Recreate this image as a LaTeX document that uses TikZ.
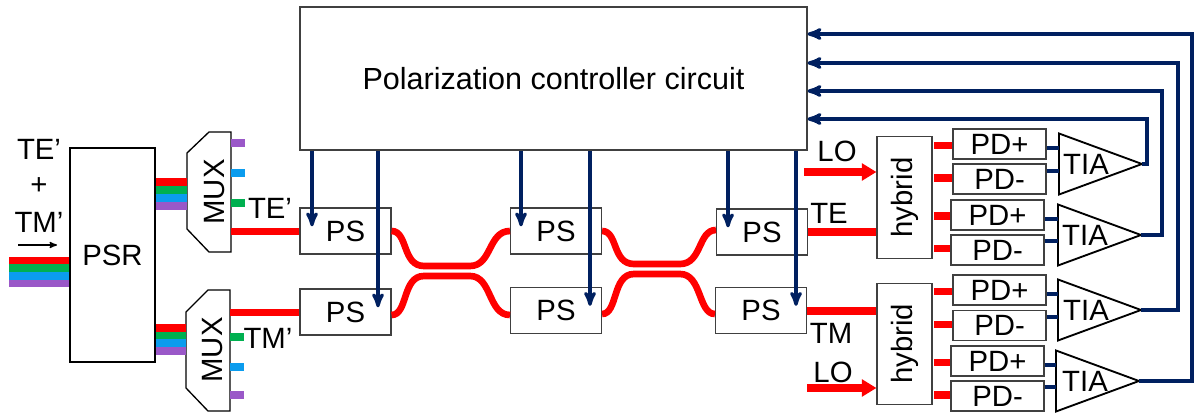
\documentclass[tikz,border=0pt]{standalone}
\usepackage{fontspec}
\setmainfont{Liberation Sans}
\usetikzlibrary{arrows}
\usetikzlibrary{arrows.meta}
\usetikzlibrary{shapes.geometric}

\definecolor{navyline}{HTML}{002060}
\definecolor{bandred}{HTML}{FF0000}
\definecolor{bandgreen}{HTML}{00B050}
\definecolor{bandblue}{HTML}{0B9CEE}
\definecolor{bandpurple}{HTML}{9A58C8}
\definecolor{boxline}{HTML}{404040}

\tikzset{
  blockbox/.style={draw=boxline,line width=0.8pt,fill=white,inner sep=0pt},
  psbox/.style={blockbox,minimum width=68.25pt,minimum height=34.5pt},
  pdbox/.style={blockbox,minimum width=69.75pt,minimum height=22.5pt},
  hybox/.style={blockbox,minimum width=41.25pt,minimum height=91pt},
  tiabox/.style={draw=black,line width=1.4pt,fill=white,isosceles triangle,
    isosceles triangle stretches,minimum width=45.75pt,minimum height=62.25pt,
    inner sep=0pt,outer sep=0pt,anchor=apex},
  muxbox/.style={minimum width=33pt,minimum height=90pt,inner sep=0pt},
  txt/.style={inner sep=0pt},
  band/.style={line width=5.8pt},
  guide/.style={line width=5pt,bandred},
  ctlline/.style={draw=navyline,line width=2.4pt,->,>=stealth',shorten >=3.5pt},
  fbline/.style={draw=navyline,line width=2.4pt,->,>=stealth'},
  stubline/.style={draw=navyline,line width=2.4pt},
  loarrow/.style={line width=5.4pt,bandred,-{Triangle[length=11pt,width=12.5pt]}}
}

\begin{document}
\begin{tikzpicture}[x=0.75pt,y=-0.75pt,every node/.append style={font=\fontsize{22}{26}\selectfont}]
  \useasboundingbox (0,0) rectangle (1194,413);

  \node [blockbox,font=\fontsize{22.9}{26}\selectfont,minimum width=380.25pt,minimum height=107.25pt] (ctrl) at (553.5,78.5) {Polarization controller circuit};
  \node [blockbox,draw=black,minimum width=63.75pt,minimum height=160.5pt] (psr) at (112.5,255) {PSR};

  \node [psbox] (a1) at (345.5,231) {PS};
  \node [psbox] (a2) at (345.5,312) {PS};
  \node [psbox] (b1) at (556,231) {PS};
  \node [psbox] (b2) at (556,310.5) {PS};
  \node [psbox] (c1) at (762,232) {PS};
  \node [psbox] (c2) at (761,310.5) {PS};

  \node [hybox] (hyb1) at (904.5,197.5) {\rotatebox{90}{hybrid}};
  \node [hybox] (hyb2) at (904.5,344) {\rotatebox{90}{hybrid}};

  \node [pdbox] (pd1) at (999.5,144) {PD+};
  \node [pdbox] (pd2) at (999.5,179) {PD-};
  \node [pdbox] (pd3) at (997.5,215) {PD+};
  \node [pdbox] (pd4) at (997.5,250) {PD-};
  \node [pdbox] (pd5) at (999.5,290) {PD+};
  \node [pdbox] (pd6) at (999.5,325.5) {PD-};
  \node [pdbox] (pd7) at (997.5,361) {PD+};
  \node [pdbox] (pd8) at (997.5,396) {PD-};

  \node [tiabox] (tia1) at (1142,164) {};
  \node [tiabox] (tia2) at (1141,235) {};
  \node [tiabox] (tia3) at (1141,310) {};
  \node [tiabox] (tia4) at (1139,381) {};
  \node [txt] (tiatext1) at (1086,164) {TIA};
  \node [txt] (tiatext2) at (1085,235) {TIA};
  \node [txt] (tiatext3) at (1086,310) {TIA};
  \node [txt] (tiatext4) at (1085,381) {TIA};

  % the two multiplexers
  \node [muxbox] (mux1) at (209,192) {};
  \node [muxbox] (mux2) at (208,350.5) {};
  \draw [line width=1pt] (187,153) -- (209,132) -- (231,132) -- (231,252) -- (209,252) -- (187,229) -- cycle;
  \draw [line width=1pt] (186,312) -- (208,290) -- (230,290) -- (230,411) -- (208,411) -- (186,388) -- cycle;
  \node [txt,rotate=90] (muxtext1) at (215,192) {MUX};
  \node [txt,rotate=90] (muxtext2) at (213,350) {MUX};

  \node [txt] (te_in) at (39,149) {TE’};
  \node [txt] (plus) at (39,186) {+};
  \node [txt] (tm_in) at (39,222) {TM’};
  \node [txt] (te_mux) at (270,208) {TE’};
  \node [txt] (tm_mux) at (268,338) {TM’};
  \node [txt] (lo1) at (837,151) {LO};
  \node [txt] (te_out) at (829,213) {TE};
  \node [txt] (tm_out) at (831,333) {TM};
  \node [txt] (lo2) at (833,372) {LO};

  \coordinate (input) at (9,272);
  \coordinate (dir_a) at (18,245);
  \coordinate (dir_b) at (57,245);
  \coordinate (lo1_in) at (804,172);
  \coordinate (lo2_in) at (807,388);
  \draw [line width=1pt,->,>=stealth'] (dir_a) -- (dir_b);

  % colour bands
  \foreach \col/\yy in {bandred/260.5,bandgreen/268,bandblue/276,bandpurple/283.5}
    \draw [band,\col] (input |- 0,\yy) -- (psr.west |- 0,\yy);
  \foreach \col/\yy in {bandred/182,bandgreen/190,bandblue/198,bandpurple/206}
    \draw [band,\col] (psr.east |- 0,\yy) -- (mux1.west |- 0,\yy);
  \foreach \col/\yy in {bandred/328,bandgreen/335.5,bandblue/343,bandpurple/351}
    \draw [band,\col] (psr.east |- 0,\yy) -- (mux2.west |- 0,\yy);
  \foreach \col/\yy in {bandpurple/143,bandblue/173,bandgreen/203}
    \draw [band,\col] (mux1.east |- 0,\yy) -- ++(14,0);
  \foreach \col/\yy in {bandgreen/337,bandblue/367,bandpurple/395}
    \draw [band,\col] (mux2.east |- 0,\yy) -- ++(14,0);

  \draw [band,bandred] (mux1.east |- 0,231.5) -- (a1.west |- 0,231.5);
  \draw [band,bandred] (mux2.east |- 0,312.5) -- (a2.west |- 0,312.5);
  \draw [band,bandred] (c1.east |- 0,232) -- (hyb1.west |- 0,232);
  \draw [band,bandred] (c2.east |- 0,311) -- (hyb2.west |- 0,311);
  \draw [loarrow] (lo1_in) -- (hyb1.west |- lo1_in);
  \draw [loarrow] (lo2_in) -- (hyb2.west |- lo2_in);

  % couplers
  \draw [guide] (a1.east) .. controls (408,231) and (402,266) .. (424,266) -- (470,266)
    .. controls (492,266) and (488,231) .. (b1.west);
  \draw [guide] (a2.east |- 0,315) .. controls (408,315) and (402,276) .. (424,276) -- (470,276)
    .. controls (492,276) and (488,315) .. (b2.west |- 0,315);
  \draw [guide] (b1.east) .. controls (618,231) and (612,264) .. (634,264) -- (680,264)
    .. controls (702,264) and (698,230) .. (c1.west |- 0,230);
  \draw [guide] (b2.east |- 0,314) .. controls (618,314) and (612,274) .. (634,274) -- (680,274)
    .. controls (702,274) and (698,314) .. (c2.west |- 0,314);

  % hybrid outputs
  \foreach \n/\m/\yy in {1/1/145.5,1/2/178,1/3/216,1/4/248.5,2/5/291.5,2/6/324.5,2/7/362.5,2/8/395}
    \draw [band,bandred] (hyb\n.east |- 0,\yy) ++(1.5,0) -- (pd\m.west |- 0,\yy);
  \foreach \n/\m/\yy in {1/1/148,1/2/171,2/3/219,2/4/241,3/5/294,3/6/317,4/7/365,4/8/387}
    \draw [stubline] (pd\m.east |- 0,\yy) -- (tia\n.lower side |- 0,\yy);

  % control lines
  \foreach \xx/\nm in {312/a1,378/a2,521/b1,590/b2,728/c1,796/c2}
    \draw [ctlline] (ctrl.south -| \xx,0) -- (\xx,0 |- \nm.center);

  % feedback
  \path [fbline] (tia1.apex) -| (1147,119) -- (ctrl.east |- 0,119);
  \path [fbline] (tia2.apex) -| (1162,91) -- (ctrl.east |- 0,91);
  \path [fbline] (tia3.apex) -| (1178,63) -- (ctrl.east |- 0,63);
  \path [fbline] (tia4.apex) -| (1192,34) -- (ctrl.east |- 0,34);
\end{tikzpicture}
\end{document}
